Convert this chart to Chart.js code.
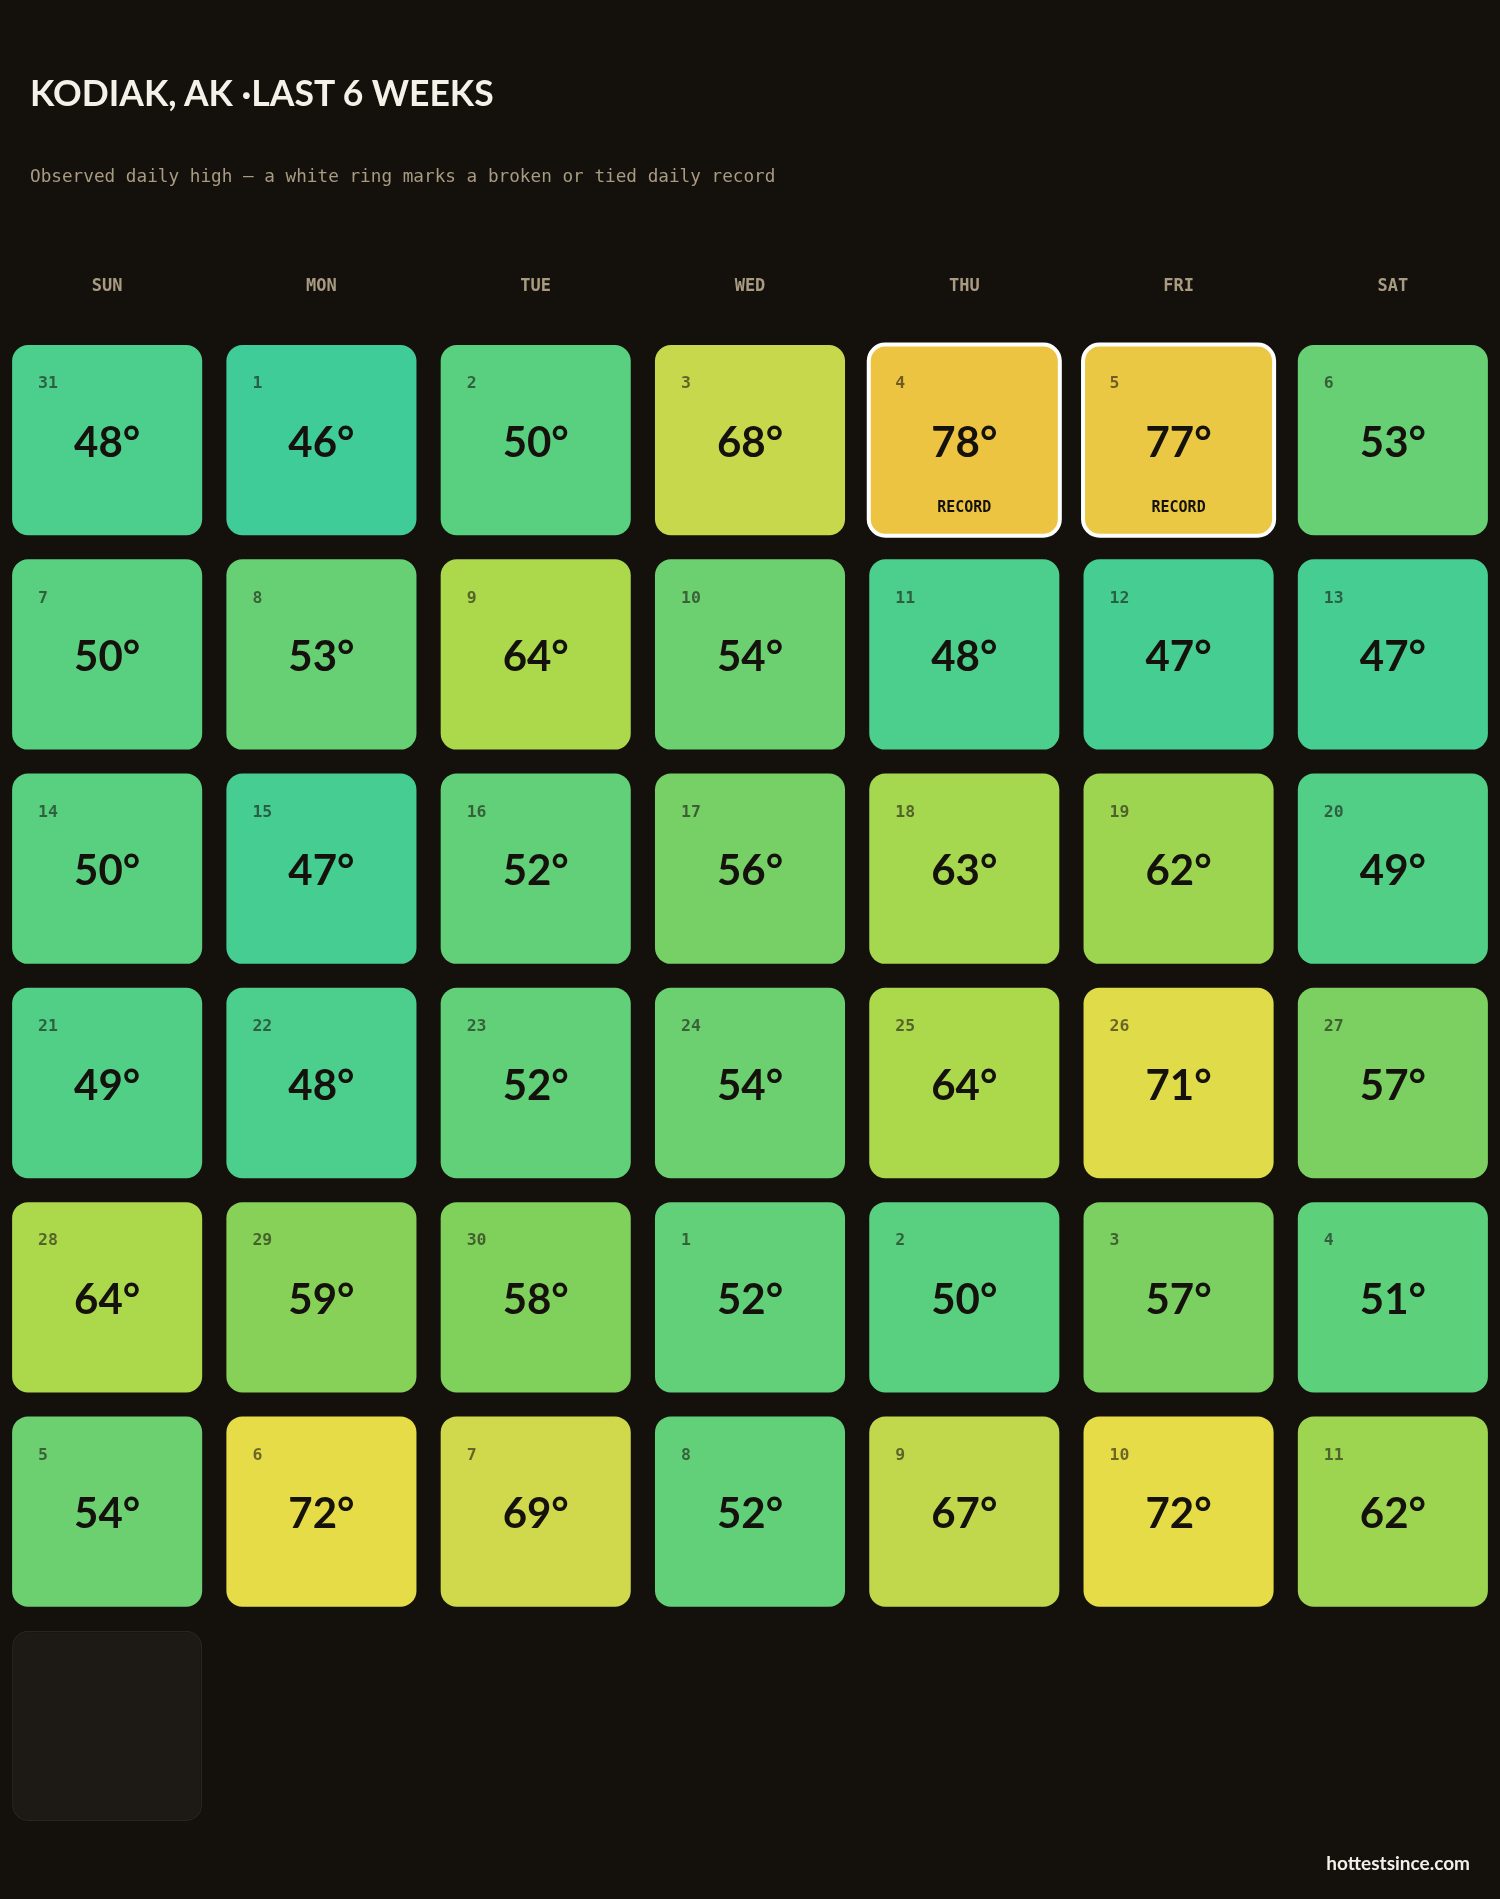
<!DOCTYPE html>
<html>
<head>
<meta charset="utf-8">
<title>Kodiak, AK - last 6 weeks</title>
<script src="https://cdn.jsdelivr.net/npm/chart.js@4.4.1/dist/chart.umd.min.js"></script>
<style>
    html, body {
        margin: 0;
        padding: 0;
        background: #14110d;
        width: 1500px;
        height: 1899px;
        overflow: hidden;
    }
    #calendar {
        position: absolute;
        left: 0;
        top: 0;
    }
    .title {
        position: absolute;
        left: 30px;
        top: 70px;
        margin: 0;
        font-family: Lato, "DejaVu Sans", sans-serif;
        font-weight: bold;
        font-size: 35.5px;
        line-height: 46px;
        color: #f5f0e8;
    }
    .subtitle {
        position: absolute;
        left: 30px;
        top: 164px;
        margin: 0;
        font-family: "DejaVu Sans Mono", monospace;
        font-size: 17.7px;
        line-height: 24px;
        color: #a99b82;
    }
    .footer {
        position: absolute;
        right: 30px;
        top: 1851px;
        font-family: Lato, "DejaVu Sans", sans-serif;
        font-weight: bold;
        font-size: 19px;
        line-height: 24px;
        color: #f3efe8;
    }
</style>
</head>
<body>
<canvas id="calendar" width="1500" height="1899"></canvas>
<h1 class="title">KODIAK, AK ·LAST 6 WEEKS</h1>
<p class="subtitle">Observed daily high — a white ring marks a broken or tied daily record</p>
<div class="footer">hottestsince.com</div>

<script>
// Calendar data: six weeks, Sunday first
const weekdays = ['SUN', 'MON', 'TUE', 'WED', 'THU', 'FRI', 'SAT'];

const dayNumbers = [
    31, 1, 2, 3, 4, 5, 6,
    7, 8, 9, 10, 11, 12, 13,
    14, 15, 16, 17, 18, 19, 20,
    21, 22, 23, 24, 25, 26, 27,
    28, 29, 30, 1, 2, 3, 4,
    5, 6, 7, 8, 9, 10, 11
];

// Observed daily highs (°F)
const highs = [
    48, 46, 50, 68, 78, 77, 53,
    50, 53, 64, 54, 48, 47, 47,
    50, 47, 52, 56, 63, 62, 49,
    49, 48, 52, 54, 64, 71, 57,
    64, 59, 58, 52, 50, 57, 51,
    54, 72, 69, 52, 67, 72, 62
];

// Days (index into highs) that broke or tied a daily record
const recordDays = [4, 5];

// Next day, no observation yet
const pendingDays = [42];

// Gap between cells, in rows
const GAP = 0.056;

// Colour scale for the daily high
function tempColor(t) {
    const stops = [
        [46, [64, 204, 152]],
        [50, [88, 208, 128]],
        [54, [108, 208, 112]],
        [58, [128, 208, 92]],
        [64, [172, 216, 76]],
        [68, [200, 216, 76]],
        [72, [230, 220, 72]],
        [78, [236, 196, 66]]
    ];
    if (t <= stops[0][0]) return `rgb(${stops[0][1].join(',')})`;
    for (let i = 1; i < stops.length; i++) {
        if (t <= stops[i][0]) {
            const [t0, c0] = stops[i - 1];
            const [t1, c1] = stops[i];
            const f = (t - t0) / (t1 - t0);
            const c = c0.map((v, k) => Math.round(v + (c1[k] - v) * f));
            return `rgb(${c.join(',')})`;
        }
    }
    return `rgb(${stops[stops.length - 1][1].join(',')})`;
}

function cellFor(i) {
    const row = Math.floor(i / 7);
    const col = i % 7;
    return { x: weekdays[col], y: [row + GAP, row + 1 - GAP] };
}

// Draw the day number, temperature and record tag on each cell
const cellText = {
    id: 'cellText',
    afterDatasetsDraw(chart) {
        const ctx = chart.ctx;
        const meta = chart.getDatasetMeta(0);
        ctx.save();
        meta.data.forEach((bar, i) => {
            const { x, y, base, width } = bar.getProps(['x', 'y', 'base', 'width'], true);
            const top = Math.min(y, base);
            const h = Math.abs(base - y);
            const left = x - width / 2;
            const isRecord = recordDays.includes(i);

            if (isRecord) {
                ctx.beginPath();
                ctx.roundRect(left - 0.5, top - 0.5, width + 1, h + 1, 16.5);
                ctx.lineWidth = 4;
                ctx.strokeStyle = '#ffffff';
                ctx.stroke();
            }

            ctx.textBaseline = 'middle';
            ctx.textAlign = 'left';
            ctx.fillStyle = 'rgba(20, 16, 12, 0.58)';
            ctx.font = 'bold 16.5px "DejaVu Sans Mono", monospace';
            ctx.fillText(String(dayNumbers[i]), left + 26, top + 39);

            ctx.textAlign = 'center';
            ctx.fillStyle = '#15110c';
            ctx.font = 'bold 42px Lato, "DejaVu Sans", sans-serif';
            ctx.fillText(highs[i] + '°', x, top + h / 2 + 3);

            if (isRecord) {
                ctx.font = 'bold 15px "DejaVu Sans Mono", monospace';
                ctx.fillText('RECORD', x, top + 163);
            }
        });
        ctx.restore();
    }
};

document.addEventListener('DOMContentLoaded', function() {
    const ctx = document.getElementById('calendar').getContext('2d');

    new Chart(ctx, {
        type: 'bar',
        data: {
            labels: weekdays,
            datasets: [{
                label: 'Daily high',
                data: highs.map((t, i) => cellFor(i)),
                backgroundColor: highs.map(t => tempColor(t)),
                borderWidth: 0
            }, {
                label: 'Pending',
                data: pendingDays.map(i => cellFor(i)),
                backgroundColor: '#1d1914',
                borderColor: '#2a241c',
                borderWidth: 1.5
            }]
        },
        plugins: [cellText],
        options: {
            responsive: false,
            animation: false,
            devicePixelRatio: 1,
            events: [],
            layout: {
                padding: { top: 253, bottom: 66, left: 0, right: 0 }
            },
            datasets: {
                bar: {
                    grouped: false,
                    borderRadius: 16,
                    borderSkipped: false,
                    inflateAmount: 0,
                    categoryPercentage: 1,
                    barPercentage: 0.887
                }
            },
            plugins: {
                legend: { display: false },
                tooltip: { enabled: false },
                title: { display: false }
            },
            scales: {
                x: {
                    type: 'category',
                    position: 'top',
                    offset: true,
                    grid: { display: false, drawTicks: false },
                    border: { display: false },
                    ticks: {
                        color: '#a99b82',
                        padding: 36,
                        font: { family: '"DejaVu Sans Mono", monospace', size: 17, weight: 'bold' }
                    },
                    afterFit: scale => { scale.height = 80; }
                },
                y: {
                    type: 'linear',
                    display: false,
                    reverse: true,
                    min: 0,
                    max: 7
                }
            }
        }
    });
});
</script>
</body>
</html>
